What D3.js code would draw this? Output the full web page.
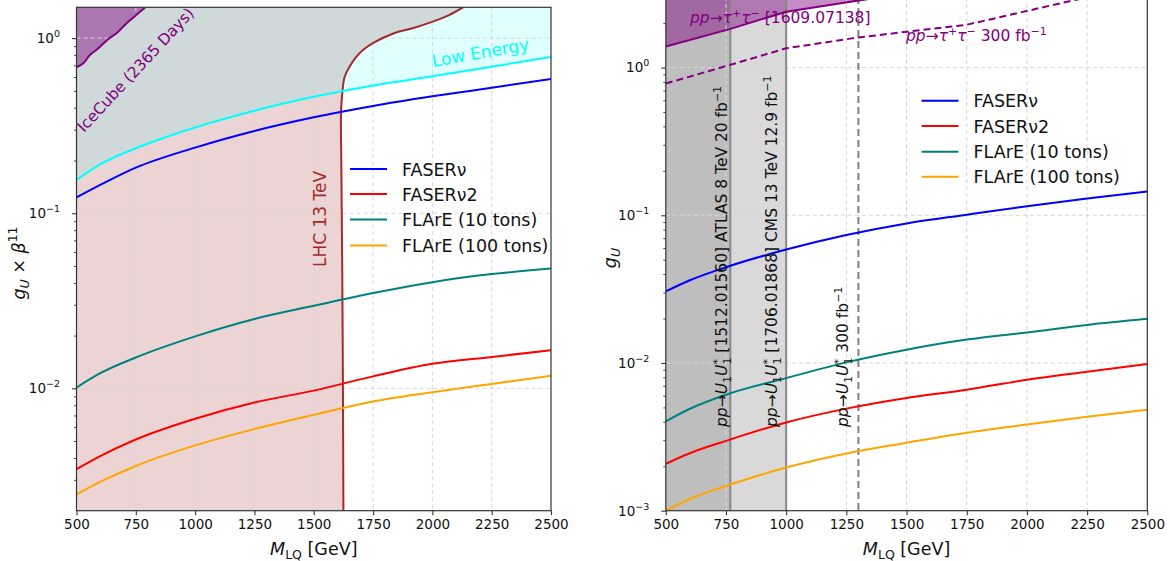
<!DOCTYPE html>
<html>
<head>
<meta charset="utf-8">
<script src="https://cdn.jsdelivr.net/npm/d3@7"></script>
<style>
  body { margin: 0; background: #fff; }
  text { font-family: "DejaVu Sans", sans-serif; }
</style>
</head>
<body>
<svg id="chart" width="1170" height="561"></svg>
<script>
// ---- data ----
const massGrid = [500, 600, 750, 1000, 1250, 1500, 1750, 2000, 2250, 2500];
const xTickValues = [500, 750, 1000, 1250, 1500, 1750, 2000, 2250, 2500];
const seriesNames = ["FASERν", "FASERν2", "FLArE (10 tons)", "FLArE (100 tons)"];

// left panel: g_U x beta^11
const leftFaserNu = [0.123, 0.145, 0.182, 0.237, 0.295, 0.353, 0.41, 0.465, 0.521, 0.584];
const leftFaserNu2 = [0.00345, 0.0041, 0.0051, 0.0067, 0.0083, 0.0097, 0.0117, 0.0138, 0.0151, 0.0165];
const leftFlare10 = [0.0101, 0.0122, 0.015, 0.0198, 0.0249, 0.0296, 0.035, 0.0404, 0.0449, 0.0483];
const leftFlare100 = [0.00248, 0.00292, 0.0036, 0.00472, 0.00585, 0.00705, 0.0084, 0.0095, 0.0106, 0.0118];
const lowEnergy = [0.155, 0.19, 0.235, 0.309, 0.385, 0.462, 0.537, 0.605, 0.687, 0.78];
// LHC 13 TeV boundary [mass, coupling], bottom to top
const lhcBound = [[1625, 0.002], [1623, 0.01], [1620, 0.05], [1616, 0.2], [1615, 0.38], [1620, 0.48],
  [1630, 0.6], [1652, 0.69], [1675, 0.77], [1710, 0.86], [1751, 0.94], [1841, 1.07], [1917, 1.14],
  [1993, 1.23], [2068, 1.35], [2130, 1.5]];
const iceCube = [[500, 0.68], [530, 0.72], [556, 0.8], [590, 0.87], [631, 0.98], [670, 1.07],
  [707, 1.2], [745, 1.33], [790, 1.5]];

// right panel: g_U
const rightFaserNu = [0.0305, 0.0363, 0.0445, 0.0586, 0.0735, 0.088, 0.101, 0.1153, 0.13, 0.145];
const rightFaserNu2 = [0.00208, 0.00245, 0.00297, 0.00396, 0.00491, 0.0058, 0.0066, 0.0077, 0.00873, 0.00985];
const rightFlare10 = [0.00403, 0.0049, 0.0061, 0.0079, 0.0101, 0.0123, 0.0144, 0.0161, 0.0181, 0.0199];
const rightFlare100 = [0.001, 0.0012, 0.00147, 0.00196, 0.00244, 0.00288, 0.00337, 0.00383, 0.00432, 0.00483];
const tauTau = [[500, 1.39], [765, 1.82], [1000, 2.39], [1315, 2.87], [1400, 3.0]];
const tauTau300 = [[500, 0.78], [765, 1.04], [1000, 1.35], [1300, 1.6], [1750, 1.95], [2200, 2.87], [2250, 2.98]];
const atlasLimit = 768;
const cmsLimit = 1000;
const hlLimit = 1300;

const seriesColors = ["#0000ff", "#ff0000", "#008080", "#ffa500"];

const svg = d3.select("#chart");

function makePanel(id, box, yDomain) {
  const x = d3.scaleLinear().domain([500, 2500]).range([box.x0, box.x1]);
  const y = d3.scaleLog().domain(yDomain).range([box.y1, box.y0]);
  svg.append("clipPath").attr("id", "clip-" + id)
    .append("rect")
    .attr("x", box.x0).attr("y", box.y0)
    .attr("width", box.x1 - box.x0).attr("height", box.y1 - box.y0);
  const g = svg.append("g").attr("clip-path", "url(#clip-" + id + ")");
  return { x, y, g, box };
}

function drawGrid(p) {
  const decades = [1e-3, 1e-2, 1e-1, 1].filter(v => v >= p.y.domain()[0] && v <= p.y.domain()[1]);
  p.g.append("g").selectAll("line.gx")
    .data(xTickValues.slice(1, -1)).enter().append("line")
    .attr("x1", d => p.x(d)).attr("x2", d => p.x(d))
    .attr("y1", p.box.y0).attr("y2", p.box.y1)
    .attr("stroke", "#d6d6d6").attr("stroke-width", 1).attr("stroke-dasharray", "4,3");
  p.g.append("g").selectAll("line.gy")
    .data(decades).enter().append("line")
    .attr("y1", d => p.y(d)).attr("y2", d => p.y(d))
    .attr("x1", p.box.x0).attr("x2", p.box.x1)
    .attr("stroke", "#d6d6d6").attr("stroke-width", 1).attr("stroke-dasharray", "4,3");
}

function drawAxes(p, yLabel) {
  const b = p.box;
  // x axis
  const xa = svg.append("g")
    .attr("transform", "translate(0," + b.y1 + ")")
    .call(d3.axisBottom(p.x).tickValues(xTickValues).tickFormat(d3.format("d"))
      .tickSize(4.5).tickPadding(4).tickSizeOuter(0));
  xa.select(".domain").remove();
  xa.selectAll("text").attr("font-size", 13.5).attr("fill", "#111")
    .style("font-family", "DejaVu Sans");
  xa.selectAll("line").attr("stroke", "#333").attr("stroke-width", 1.1);

  // y axis, decades with labels
  const lo = p.y.domain()[0], hi = p.y.domain()[1];
  const decades = [1e-3, 1e-2, 1e-1, 1].filter(v => v >= lo * 0.999 && v <= hi);
  const minors = [];
  for (let e = -4; e <= 1; e++) {
    for (let m = 2; m <= 9; m++) {
      const v = m * Math.pow(10, e);
      if (v > lo && v < hi) minors.push(v);
    }
  }
  const ya = svg.append("g")
    .attr("transform", "translate(" + b.x0 + ",0)")
    .call(d3.axisLeft(p.y).tickValues(decades).tickSize(4.5).tickPadding(4).tickSizeOuter(0));
  ya.select(".domain").remove();
  ya.selectAll("line").attr("stroke", "#333").attr("stroke-width", 1.1);
  ya.selectAll("text").each(function (d) {
    const t = d3.select(this);
    const e = Math.round(Math.log10(d));
    t.text("").attr("font-size", 13.5).attr("fill", "#111").attr("dx", "-8")
      .style("font-family", "DejaVu Sans");
    t.append("tspan").text("10");
    t.append("tspan").attr("font-size", 9.5).attr("dy", "-6")
      .text(e === 0 ? "0" : "−" + Math.abs(e));
  });
  const ym = svg.append("g")
    .attr("transform", "translate(" + b.x0 + ",0)")
    .call(d3.axisLeft(p.y).tickValues(minors).tickSize(2.5).tickFormat("").tickSizeOuter(0));
  ym.select(".domain").remove();
  ym.selectAll("line").attr("stroke", "#333").attr("stroke-width", 0.9);

  // frame
  svg.append("rect")
    .attr("x", b.x0).attr("y", b.y0)
    .attr("width", b.x1 - b.x0).attr("height", b.y1 - b.y0)
    .attr("fill", "none").attr("stroke", "#333").attr("stroke-width", 1.2);

  // x title
  const xt = svg.append("text")
    .attr("x", (b.x0 + b.x1) / 2).attr("y", 555)
    .attr("text-anchor", "middle").attr("font-size", 17.5).attr("fill", "#111");
  xt.append("tspan").attr("font-style", "italic").text("M");
  xt.append("tspan").attr("font-size", 12.5).attr("dy", 4).text("LQ");
  xt.append("tspan").attr("dy", -4).text(" [GeV]");

  yLabel();
}

function drawLegend(p, lx, rows) {
  const lg = svg.append("g");
  seriesNames.forEach((name, i) => {
    lg.append("line")
      .attr("x1", lx).attr("x2", lx + 37)
      .attr("y1", rows[i]).attr("y2", rows[i])
      .attr("stroke", seriesColors[i]).attr("stroke-width", 2);
    lg.append("text")
      .attr("x", lx + 52).attr("y", rows[i] + 6.5)
      .attr("font-size", 17.5).attr("fill", "#111")
      .text(name);
  });
}

function drawSeries(p, sets) {
  const line = d3.line()
    .x((d, i) => p.x(massGrid[i]))
    .y(d => p.y(d))
    .curve(d3.curveMonotoneX);
  sets.forEach((s, i) => {
    p.g.append("path").datum(s)
      .attr("d", line)
      .attr("fill", "none").attr("stroke", seriesColors[i]).attr("stroke-width", 2);
  });
}

// ---------------- LEFT PANEL ----------------
const L = makePanel("left", { x0: 76.5, x1: 551, y0: 7.3, y1: 510.7 }, [0.002, 1.5]);
const pairLine = (p, curve) => d3.line().x(d => p.x(d[0])).y(d => p.y(d[1])).curve(curve);

// LHC 13 TeV excluded region
const lhcArea = [[500, 0.002]].concat(lhcBound, [[500, 1.5], [500, 2]]);
L.g.append("path").datum(lhcArea)
  .attr("d", pairLine(L, d3.curveLinear))
  .attr("fill", "#a52a2a").attr("fill-opacity", 0.2);

// low energy region (above cyan)
const lowPts = lowEnergy.map((v, i) => [massGrid[i], v]);
const lowArea = lowPts.concat([[2500, 2], [500, 2]]);
L.g.append("path").datum(lowArea)
  .attr("d", pairLine(L, d3.curveLinear))
  .attr("fill", "#00ffff").attr("fill-opacity", 0.12);

// IceCube region
const iceArea = iceCube.concat([[790, 2], [500, 2]]);
L.g.append("path").datum(iceArea)
  .attr("d", pairLine(L, d3.curveLinear))
  .attr("fill", "#800080").attr("fill-opacity", 0.45);

drawGrid(L);

L.g.append("path").datum(lhcBound)
  .attr("d", pairLine(L, d3.curveCatmullRom.alpha(0.5)))
  .attr("fill", "none").attr("stroke", "#a52a2a").attr("stroke-width", 2);
L.g.append("path").datum(lowPts)
  .attr("d", pairLine(L, d3.curveMonotoneX))
  .attr("fill", "none").attr("stroke", "#00ffff").attr("stroke-width", 2);
L.g.append("path").datum(iceCube)
  .attr("d", pairLine(L, d3.curveCatmullRom.alpha(0.5)))
  .attr("fill", "none").attr("stroke", "#800080").attr("stroke-width", 2);

drawSeries(L, [leftFaserNu, leftFaserNu2, leftFlare10, leftFlare100]);

svg.append("text")
  .attr("transform", "translate(84,133) rotate(-47)")
  .attr("font-size", 15.5).attr("fill", "#800080")
  .text("IceCube (2365 Days)");
svg.append("text")
  .attr("transform", "translate(433,67) rotate(-10)")
  .attr("font-size", 17).attr("fill", "#00ffff")
  .text("Low Energy");
svg.append("text")
  .attr("transform", "translate(326,219) rotate(-90)")
  .attr("text-anchor", "middle")
  .attr("font-size", 17).attr("fill", "#a52a2a")
  .text("LHC 13 TeV");

drawLegend(L, 350, [169, 194, 219.5, 245.5]);

drawAxes(L, () => {
  const t = svg.append("text")
    .attr("transform", "translate(25,263) rotate(-90)")
    .attr("text-anchor", "middle").attr("font-size", 17.5).attr("fill", "#111");
  t.append("tspan").attr("font-style", "italic").text("g");
  t.append("tspan").attr("font-style", "italic").attr("font-size", 12.5).attr("dy", 4).text("U");
  t.append("tspan").attr("dy", -4).text(" × ");
  t.append("tspan").attr("font-style", "italic").text("β");
  t.append("tspan").attr("font-size", 12.5).attr("dy", -8).text("11");
});

// ---------------- RIGHT PANEL ----------------
const R = makePanel("right", { x0: 665.8, x1: 1147.3, y0: -2.9, y1: 510.7 }, [0.001, 3]);

R.g.append("rect")
  .attr("x", R.x(500)).attr("y", R.box.y0)
  .attr("width", R.x(cmsLimit) - R.x(500)).attr("height", R.box.y1 - R.box.y0)
  .attr("fill", "#808080").attr("fill-opacity", 0.3);
R.g.append("rect")
  .attr("x", R.x(500)).attr("y", R.box.y0)
  .attr("width", R.x(atlasLimit) - R.x(500)).attr("height", R.box.y1 - R.box.y0)
  .attr("fill", "#808080").attr("fill-opacity", 0.3);

const tauArea = tauTau.concat([[1400, 5], [500, 5]]);
R.g.append("path").datum(tauArea)
  .attr("d", pairLine(R, d3.curveLinear))
  .attr("fill", "#800080").attr("fill-opacity", 0.45);

drawGrid(R);

[atlasLimit, cmsLimit].forEach(m => {
  R.g.append("line")
    .attr("x1", R.x(m)).attr("x2", R.x(m))
    .attr("y1", R.box.y0).attr("y2", R.box.y1)
    .attr("stroke", "#888").attr("stroke-width", 2);
});
R.g.append("line")
  .attr("x1", R.x(hlLimit)).attr("x2", R.x(hlLimit))
  .attr("y1", R.box.y0).attr("y2", R.box.y1)
  .attr("stroke", "#808080").attr("stroke-width", 2).attr("stroke-dasharray", "7,4");

R.g.append("path").datum(tauTau)
  .attr("d", pairLine(R, d3.curveLinear))
  .attr("fill", "none").attr("stroke", "#800080").attr("stroke-width", 2);
R.g.append("path").datum(tauTau300)
  .attr("d", pairLine(R, d3.curveLinear))
  .attr("fill", "none").attr("stroke", "#800080").attr("stroke-width", 2)
  .attr("stroke-dasharray", "7,4");

drawSeries(R, [rightFaserNu, rightFaserNu2, rightFlare10, rightFlare100]);

function tauLabel(x, y, tail) {
  const t = svg.append("text").attr("x", x).attr("y", y)
    .attr("font-size", 15.5).attr("fill", "#800080");
  t.append("tspan").attr("font-style", "italic").text("pp");
  t.append("tspan").text("→");
  t.append("tspan").attr("font-style", "italic").text("τ");
  t.append("tspan").attr("font-size", 11).attr("dy", -6).text("+");
  t.append("tspan").attr("font-style", "italic").attr("dy", 6).text("τ");
  t.append("tspan").attr("font-size", 11).attr("dy", -6).text("−");
  t.append("tspan").attr("dy", 6).text(tail);
  return t;
}
tauLabel(690, 22.5, " [1609.07138]");
const t300 = tauLabel(906, 40.5, " 300 fb");
t300.append("tspan").attr("font-size", 11).attr("dy", -6).text("−1");

function lqLabel(x, parts) {
  const t = svg.append("text")
    .attr("transform", "translate(" + x + ",427) rotate(-90)")
    .attr("font-size", 15.5).attr("fill", "#111");
  t.append("tspan").attr("font-style", "italic").text("pp");
  t.append("tspan").text("→");
  t.append("tspan").attr("font-style", "italic").text("U");
  t.append("tspan").attr("font-size", 11).attr("dy", 4).text("1");
  t.append("tspan").attr("font-style", "italic").attr("dy", -4).text("U");
  t.append("tspan").attr("font-size", 11).attr("dy", -6).text("*");
  t.append("tspan").attr("font-size", 11).attr("dx", -5.5).attr("dy", 10).text("1");
  t.append("tspan").attr("dy", -4).text(parts);
  t.append("tspan").attr("font-size", 11).attr("dy", -6).text("−1");
}
lqLabel(726.5, " [1512.01560] ATLAS 8 TeV 20 fb");
lqLabel(776.5, " [1706.01868] CMS 13 TeV 12.9 fb");
lqLabel(848, " 300 fb");

drawLegend(R, 921.5, [100.7, 126, 151.7, 176.7]);

drawAxes(R, () => {
  const t = svg.append("text")
    .attr("transform", "translate(616,258) rotate(-90)")
    .attr("text-anchor", "middle").attr("font-size", 17.5).attr("fill", "#111");
  t.append("tspan").attr("font-style", "italic").text("g");
  t.append("tspan").attr("font-style", "italic").attr("font-size", 12.5).attr("dy", 4).text("U");
});
</script>
</body>
</html>
